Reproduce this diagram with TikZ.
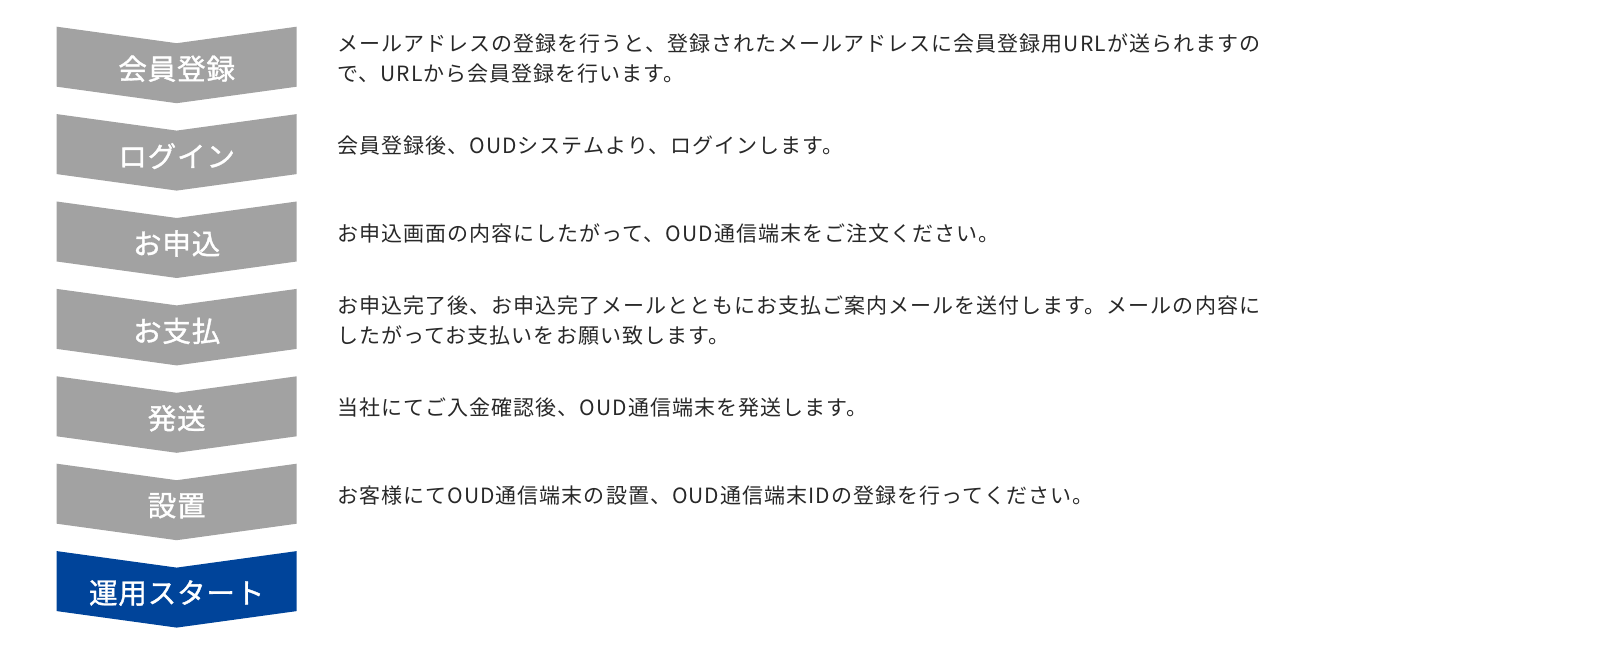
\documentclass[tikz,border=0pt]{standalone}
\usepackage{fontspec}
\setmainfont{Noto Sans CJK JP}
\newfontfamily\descfont[LetterSpace=5]{Noto Sans CJK JP}
\newfontfamily\labelfont[LetterSpace=3,FakeBold=1.2]{Noto Sans CJK JP}

\definecolor{stepgray}{RGB}{162,162,162}
\definecolor{stepblue}{RGB}{0,68,154}
\definecolor{desctext}{RGB}{40,40,40}

\begin{document}
\begin{tikzpicture}[x=1pt,y=-1pt,
    steplabel/.style={text=white,inner sep=0pt,font=\labelfont\fontsize{28.5}{30}\selectfont},
    desc/.style={anchor=west,align=left,inner sep=0pt,text=desctext,font=\descfont\fontsize{21}{30}\selectfont}]
    \useasboundingbox (0,0) rectangle (1598,652);

    % chevrons
    \fill[stepgray] (56.7,26.7) -- ++(120,16.5) -- ++(120,-16.5) -- ++(0,60) -- ++(-120,16.5) -- ++(-120,-16.5) -- cycle;
    \fill[stepgray] (56.7,114.1) -- ++(120,16.5) -- ++(120,-16.5) -- ++(0,60) -- ++(-120,16.5) -- ++(-120,-16.5) -- cycle;
    \fill[stepgray] (56.7,201.5) -- ++(120,16.5) -- ++(120,-16.5) -- ++(0,60) -- ++(-120,16.5) -- ++(-120,-16.5) -- cycle;
    \fill[stepgray] (56.7,288.9) -- ++(120,16.5) -- ++(120,-16.5) -- ++(0,60) -- ++(-120,16.5) -- ++(-120,-16.5) -- cycle;
    \fill[stepgray] (56.7,376.3) -- ++(120,16.5) -- ++(120,-16.5) -- ++(0,60) -- ++(-120,16.5) -- ++(-120,-16.5) -- cycle;
    \fill[stepgray] (56.7,463.7) -- ++(120,16.5) -- ++(120,-16.5) -- ++(0,60) -- ++(-120,16.5) -- ++(-120,-16.5) -- cycle;
    \fill[stepblue] (56.7,551.1) -- ++(120,16.5) -- ++(120,-16.5) -- ++(0,60) -- ++(-120,16.5) -- ++(-120,-16.5) -- cycle;

    % step names
    \node[steplabel] (register) at (176.7,68.7) {会員登録};
    \node[steplabel] (login) at (176.7,156.1) {ログイン};
    \node[steplabel] (apply) at (176.7,243.5) {お申込};
    \node[steplabel] (payment) at (176.7,330.9) {お支払};
    \node[steplabel] (shipping) at (176.7,418.3) {発送};
    \node[steplabel] (setup) at (176.7,505.7) {設置};
    \node[steplabel] (start) at (176.7,593.1) {運用スタート};

    % descriptions
    \node[desc] (registertext) at (337,58.2) {メールアドレスの登録を行うと、登録されたメールアドレスに会員登録用URLが送られますの\\で、URLから会員登録を行います。};
    \node[desc] (logintext) at (337,145.6) {会員登録後、OUDシステムより、ログインします。};
    \node[desc] (applytext) at (337,233.0) {お申込画面の内容にしたがって、OUD通信端末をご注文ください。};
    \node[desc] (paymenttext) at (337,320.4) {お申込完了後、お申込完了メールとともにお支払ご案内メールを送付します。メールの内容に\\したがってお支払いをお願い致します。};
    \node[desc] (shippingtext) at (337,407.8) {当社にてご入金確認後、OUD通信端末を発送します。};
    \node[desc] (setuptext) at (337,495.2) {お客様にてOUD通信端末の設置、OUD通信端末IDの登録を行ってください。};
\end{tikzpicture}
\end{document}
